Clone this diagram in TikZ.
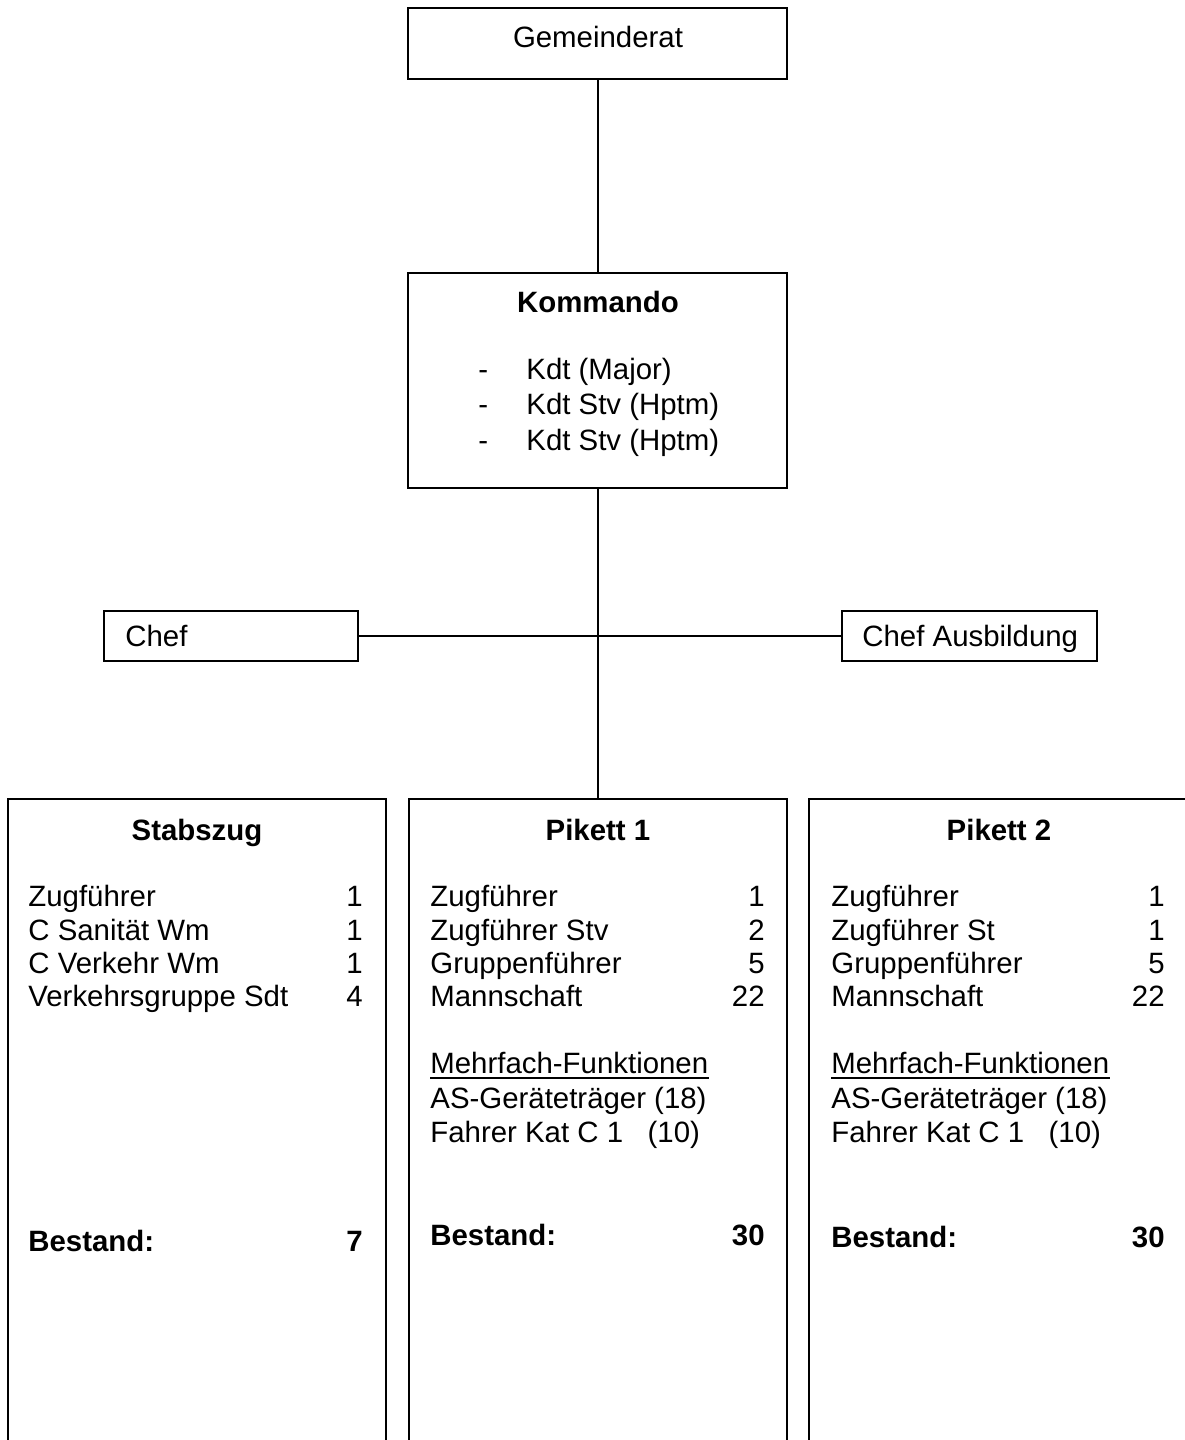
\documentclass[tikz,border=0pt]{standalone}
\usepackage{fontspec}
\setmainfont{Liberation Sans}
\tikzset{
  box/.style={draw, line width=1pt, inner sep=0pt},
  txt/.style={font=\fontsize{14.7}{17}\selectfont, inner sep=0pt},
  head/.style={txt, font=\fontsize{14.7}{17}\selectfont\bfseries, anchor=base},
}
\begin{document}
\begin{tikzpicture}[x=0.5pt, y=-0.5pt]
  \useasboundingbox (0,0) rectangle (1184,1440);

  % boxes
  \node[box, minimum width=189.5pt, minimum height=35.5pt] (gemeinderat) at (597.5, 43.5) {};
  \node[box, minimum width=189.5pt, minimum height=107.5pt] (kommando) at (597.5, 380.5) {};
  \node[box, minimum width=127pt, minimum height=25pt] (chef) at (231, 636) {};
  \node[box, minimum width=127.5pt, minimum height=25pt] (ausbildung) at (969.5, 636) {};
  \node[box, minimum width=189pt, minimum height=330.5pt] (stabszug) at (197, 1129.5) {};
  \node[box, minimum width=189pt, minimum height=330.5pt] (pikett1) at (597.5, 1129.5) {};
  \node[box, minimum width=190.5pt, minimum height=330.5pt] (pikett2) at (999.5, 1129.5) {};

  \draw[line width=1pt] (gemeinderat.south) -- (kommando.north);
  \draw[line width=1pt] (kommando.south) -- (pikett1.north);
  \draw[line width=1pt] (chef.east) -- (ausbildung.west);

  % texts
  \node[txt, anchor=base] (t-gemeinderat) at (598, 47) {Gemeinderat};
  \node[head] (t-kommando) at (598, 312) {Kommando};
  \node[txt, anchor=base west] (d1) at (478, 379) {-};
  \node[txt, anchor=base west] (d2) at (478, 414.5) {-};
  \node[txt, anchor=base west] (d3) at (478, 450) {-};
  \node[txt, anchor=base west] (k1) at (526, 379) {Kdt (Major)};
  \node[txt, anchor=base west] (k2) at (526, 414.5) {Kdt Stv (Hptm)};
  \node[txt, anchor=base west] (k3) at (526, 450) {Kdt Stv (Hptm)};

  \node[txt, anchor=base west] (t-chef) at (125, 646) {Chef};
  \node[txt, anchor=base west] (t-ausbildung) at (862, 646) {Chef Ausbildung};

  % Stabszug
  \node[head] (t-stabszug) at (197, 840) {Stabszug};
  \node[txt, anchor=base west] (s1) at (28, 906) {Zugführer};
  \node[txt, anchor=base west] (s2) at (28, 940) {C Sanität Wm};
  \node[txt, anchor=base west] (s3) at (28, 973) {C Verkehr Wm};
  \node[txt, anchor=base west] (s4) at (28, 1006) {Verkehrsgruppe Sdt};
  \node[txt, anchor=base east] (sn1) at (363, 906) {1};
  \node[txt, anchor=base east] (sn2) at (363, 940) {1};
  \node[txt, anchor=base east] (sn3) at (363, 973) {1};
  \node[txt, anchor=base east] (sn4) at (363, 1006) {4};
  \node[head, anchor=base west] (sb) at (28, 1251) {Bestand:};
  \node[head, anchor=base east] (sbn) at (363, 1251) {7};

  % Pikett 1
  \node[head] (t-pikett1) at (598, 840) {Pikett 1};
  \node[txt, anchor=base west] (a1) at (430, 906) {Zugführer};
  \node[txt, anchor=base west] (a2) at (430, 940) {Zugführer Stv};
  \node[txt, anchor=base west] (a3) at (430, 973) {Gruppenführer};
  \node[txt, anchor=base west] (a4) at (430, 1006) {Mannschaft};
  \node[txt, anchor=base east] (an1) at (765, 906) {1};
  \node[txt, anchor=base east] (an2) at (765, 940) {2};
  \node[txt, anchor=base east] (an3) at (765, 973) {5};
  \node[txt, anchor=base east] (an4) at (765, 1006) {22};
  \node[txt, anchor=base west] (amf) at (430, 1073) {Mehrfach-Funktionen};
  \draw[line width=0.75pt] ([yshift=-2.5pt]amf.base west) -- ([yshift=-2.5pt]amf.base east);
  \node[txt, anchor=base west] (a5) at (430, 1108) {AS-Geräteträger (18)};
  \node[txt, anchor=base west] (a6) at (430, 1142) {Fahrer Kat C 1\ \ \ (10)};
  \node[head, anchor=base west] (ab) at (430, 1245) {Bestand:};
  \node[head, anchor=base east] (abn) at (765, 1245) {30};

  % Pikett 2
  \node[head] (t-pikett2) at (999, 840) {Pikett 2};
  \node[txt, anchor=base west] (b1) at (831, 906) {Zugführer};
  \node[txt, anchor=base west] (b2) at (831, 940) {Zugführer St};
  \node[txt, anchor=base west] (b3) at (831, 973) {Gruppenführer};
  \node[txt, anchor=base west] (b4) at (831, 1006) {Mannschaft};
  \node[txt, anchor=base east] (bn1) at (1165, 906) {1};
  \node[txt, anchor=base east] (bn2) at (1165, 940) {1};
  \node[txt, anchor=base east] (bn3) at (1165, 973) {5};
  \node[txt, anchor=base east] (bn4) at (1165, 1006) {22};
  \node[txt, anchor=base west] (bmf) at (831, 1073) {Mehrfach-Funktionen};
  \draw[line width=0.75pt] ([yshift=-2.5pt]bmf.base west) -- ([yshift=-2.5pt]bmf.base east);
  \node[txt, anchor=base west] (b5) at (831, 1108) {AS-Geräteträger (18)};
  \node[txt, anchor=base west] (b6) at (831, 1142) {Fahrer Kat C 1\ \ \ (10)};
  \node[head, anchor=base west] (bb) at (831, 1247) {Bestand:};
  \node[head, anchor=base east] (bbn) at (1165, 1247) {30};
\end{tikzpicture}
\end{document}
